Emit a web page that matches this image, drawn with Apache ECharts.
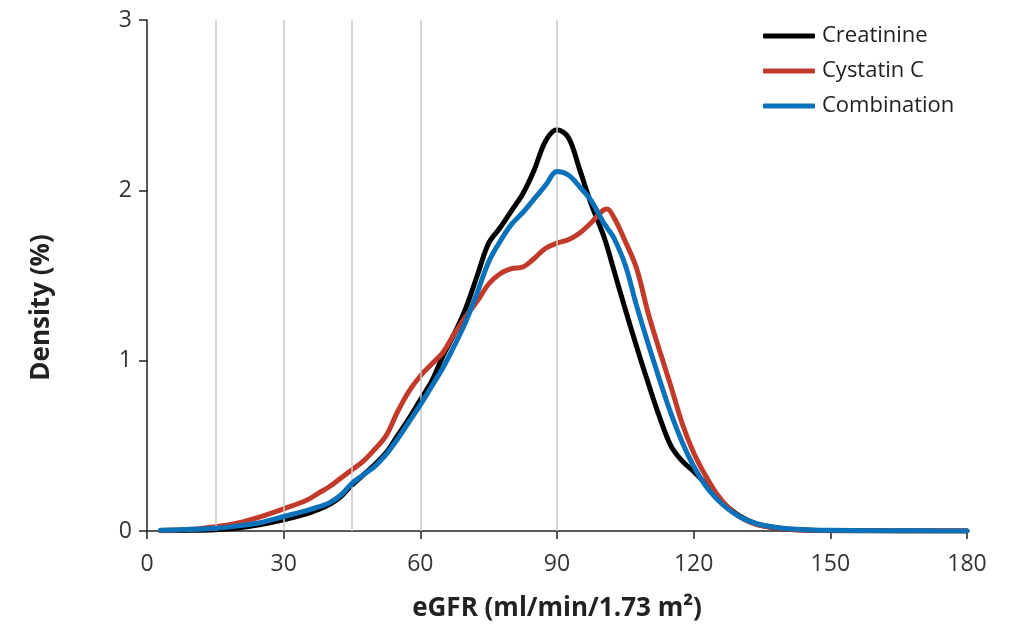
<!DOCTYPE html>
<html>
<head>
<meta charset="utf-8">
<script src="https://cdn.jsdelivr.net/npm/echarts@6/dist/echarts.min.js"></script>
<style>
html,body{margin:0;padding:0;background:#fff;}
#chart{width:1013px;height:627px;}
</style>
</head>
<body>
<div id="chart"></div>
<script>
// eGFR values (ml/min/1.73 m2)
const egfr = [3, 10, 15, 20, 25, 30, 35, 37.5, 40, 42.5, 45, 47.5, 50, 52.5, 55, 57.5, 60, 62.5, 65, 67.5, 70, 72.5, 75, 77.5, 80, 82.5, 85, 87.5, 90, 92.5, 95, 97.5, 100, 101, 102.5, 105, 107.5, 110, 112.5, 115, 117.5, 120, 122.5, 125, 127.5, 130, 132.5, 135, 140, 145, 150, 160, 170, 180];
// Density (%) per series
const creatinine = [0.002, 0.004, 0.008, 0.018, 0.038, 0.065, 0.10, 0.125, 0.155, 0.20, 0.27, 0.33, 0.39, 0.46, 0.56, 0.66, 0.77, 0.88, 1.03, 1.16, 1.31, 1.50, 1.69, 1.78, 1.88, 1.98, 2.12, 2.29, 2.355, 2.31, 2.12, 1.92, 1.75, 1.67, 1.53, 1.30, 1.08, 0.87, 0.67, 0.50, 0.41, 0.35, 0.28, 0.20, 0.14, 0.09, 0.055, 0.032, 0.012, 0.005, 0.002, 0.001, 0.0005, 0.0];
const cystatinC = [0.003, 0.01, 0.025, 0.048, 0.085, 0.13, 0.18, 0.22, 0.26, 0.31, 0.36, 0.41, 0.48, 0.56, 0.70, 0.82, 0.91, 0.98, 1.05, 1.16, 1.26, 1.35, 1.45, 1.51, 1.54, 1.55, 1.60, 1.66, 1.69, 1.71, 1.75, 1.81, 1.88, 1.89, 1.84, 1.70, 1.54, 1.28, 1.06, 0.85, 0.63, 0.46, 0.33, 0.22, 0.14, 0.085, 0.05, 0.03, 0.012, 0.005, 0.003, 0.001, 0.0005, 0.0];
const combination = [0.005, 0.01, 0.016, 0.03, 0.05, 0.085, 0.12, 0.14, 0.165, 0.21, 0.28, 0.33, 0.38, 0.45, 0.54, 0.64, 0.74, 0.85, 0.96, 1.09, 1.23, 1.40, 1.58, 1.70, 1.80, 1.87, 1.95, 2.03, 2.11, 2.09, 2.02, 1.94, 1.82, 1.78, 1.72, 1.56, 1.32, 1.10, 0.89, 0.69, 0.52, 0.38, 0.27, 0.19, 0.13, 0.085, 0.055, 0.035, 0.015, 0.008, 0.004, 0.002, 0.001, 0.0];
const seriesNames = ['Creatinine', 'Cystatin C', 'Combination'];
const seriesColors = ['#000000', '#c23b2a', '#0a72ba'];
const gridLineX = [15, 30, 45, 60, 90];
const xTicks = [0, 30, 60, 90, 120, 150, 180];
const yTicks = [0, 1, 2, 3];

const FONT = '"Open Sans", Lato, sans-serif';
const chart = echarts.init(document.getElementById('chart'));

const pairs = arr => egfr.map((x, i) => [x, arr[i]]);
const seriesData = [creatinine, cystatinC, combination];

const series = seriesData.map((arr, i) => ({
  name: seriesNames[i],
  type: 'line',
  data: pairs(arr),
  smooth: 0.35,
  symbol: 'none',
  z: 3 + i,
  lineStyle: { color: seriesColors[i], width: 5, cap: 'round', join: 'round' },
  itemStyle: { color: seriesColors[i] }
}));
// vertical reference lines
series.unshift({
  name: 'grid',
  type: 'line',
  data: [],
  silent: true,
  z: 1,
  markLine: {
    silent: true,
    symbol: ['none', 'none'],
    label: { show: false },
    lineStyle: { color: '#c8c8c8', width: 1.5, type: 'solid' },
    data: gridLineX.map(v => ({ xAxis: v }))
  }
});

chart.setOption({
  animation: false,
  backgroundColor: '#ffffff',
  grid: { left: 147, right: 46, top: 20, bottom: 94 },
  legend: {
    data: seriesNames,
    orient: 'vertical',
    left: 758,
    top: 20,
    itemWidth: 52,
    itemHeight: 5,
    itemGap: 13,
    icon: 'roundRect',
    textStyle: { fontFamily: FONT, fontSize: 22, color: '#222', padding: [0, 0, 0, 2] }
  },
  xAxis: {
    type: 'value',
    min: 0, max: 180, interval: 30,
    name: 'eGFR (ml/min/1.73 m²)',
    nameLocation: 'middle',
    nameGap: 65,
    nameTextStyle: { fontFamily: FONT, fontSize: 26, fontWeight: 'bold', color: '#222' },
    axisLine: { lineStyle: { color: '#222', width: 1.5 } },
    axisTick: { length: 8, lineStyle: { color: '#222', width: 1.5 } },
    axisLabel: { fontFamily: FONT, fontSize: 23, color: '#333', margin: 22,
      formatter: v => xTicks.includes(v) ? String(v) : '' },
    splitLine: { show: false }
  },
  yAxis: {
    type: 'value',
    min: 0, max: 3, interval: 1,
    name: 'Density (%)',
    nameLocation: 'middle',
    nameGap: 92,
    nameRotate: 90,
    nameTextStyle: { fontFamily: FONT, fontSize: 26, fontWeight: 'bold', color: '#222', padding: [0, 64, 0, 0] },
    axisLine: { show: true, lineStyle: { color: '#222', width: 1.5 } },
    axisTick: { show: true, length: 8, lineStyle: { color: '#222', width: 1.5 } },
    axisLabel: { fontFamily: FONT, fontSize: 23, color: '#333', margin: 15,
      formatter: v => yTicks.includes(v) ? String(v) : '' },
    splitLine: { show: false }
  },
  series: series
});
</script>
</body>
</html>
